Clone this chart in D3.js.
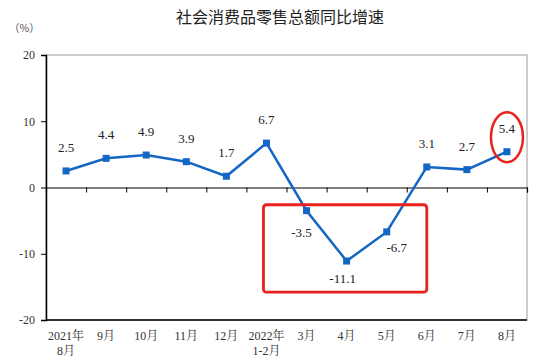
<!DOCTYPE html>
<html><head><meta charset="utf-8">
<script src="https://cdn.jsdelivr.net/npm/d3@7"></script>
<style>body{margin:0;background:#fff}</style>
</head><body><svg id="c" width="545" height="363"></svg>
<script>
const categories = ["2021年\n8月","9月","10月","11月","12月","2022年\n1-2月","3月","4月","5月","6月","7月","8月"];
const values = [2.5,4.4,4.9,3.9,1.7,6.7,-3.5,-11.1,-6.7,3.1,2.7,5.4];
const yTicks = [20,10,0,-10,-20];
const labelPos = ["above","above","above","above","above","above","belowLeft","below","belowRight","above","above","above"];
const title = "社会消费品零售总额同比增速";

const loc = d3.formatLocale({decimal:".",thousands:",",grouping:[3],currency:["",""],minus:"-"});
const svg = d3.select("#c");
const m = {l:46, r:527, t:55, b:320};
const x = d3.scaleBand().domain(d3.range(categories.length)).range([m.l, m.r]);
const y = d3.scaleLinear().domain([-20,20]).range([m.b, m.t]);
const serif = "'Liberation Serif','Noto Serif CJK SC','Noto Sans CJK SC',serif";
const blue = "#1466c4", red = "#e8221e";

svg.append("text").attr("x",280).attr("y",23).attr("text-anchor","middle")
  .attr("font-family","'Noto Sans CJK SC',sans-serif").attr("font-size",16).attr("fill","#222").text(title);
svg.append("text").attr("x",9).attr("y",32).attr("font-family","'Noto Sans CJK SC',sans-serif").attr("font-size",10.5).attr("fill","#555").text("（%）");

// frame
svg.append("rect").attr("x",m.l).attr("y",m.t).attr("width",m.r-m.l).attr("height",m.b-m.t)
  .attr("fill","none").attr("stroke","#999").attr("stroke-width",1);
// left axis
const ya = svg.append("g").attr("transform",`translate(${m.l},0)`)
  .call(d3.axisLeft(y).tickValues(yTicks).tickSize(5).tickFormat(loc.format("d")));
ya.select(".domain").attr("stroke","#000").attr("stroke-width",1.5);
ya.selectAll("line").attr("stroke","#000");
ya.selectAll("text").attr("font-family",serif).attr("font-size",12).attr("fill","#333").attr("dx",-3);
// bottom line
svg.append("line").attr("x1",m.l).attr("x2",m.r).attr("y1",m.b).attr("y2",m.b).attr("stroke","#000").attr("stroke-width",1.5);
// zero line with ticks
const za = svg.append("g").attr("transform",`translate(0,${y(0)})`)
  .call(d3.axisBottom(d3.scaleLinear().domain([0,categories.length]).range([m.l,m.r]))
    .tickValues(d3.range(categories.length+1)).tickSize(5).tickFormat(""));
za.select(".domain").attr("stroke","#000").attr("stroke-width",1.2);
za.selectAll("line").attr("stroke","#000");

// x labels
const cx = i => x(i) + x.bandwidth()/2;
categories.forEach((c,i)=>{
  const t = svg.append("text").attr("x",cx(i)).attr("y",340).attr("text-anchor","middle")
    .attr("font-family",serif).attr("font-size",12).attr("fill","#333");
  c.split("\n").forEach((s,j)=>t.append("tspan").attr("x",cx(i)).attr("dy",j?14.5:0).text(s));
});

// line
svg.append("path").datum(values).attr("fill","none").attr("stroke",blue).attr("stroke-width",2.5)
  .attr("d", d3.line().x((d,i)=>cx(i)).y(d=>y(d)));
svg.selectAll("rect.pt").data(values).enter().append("rect").attr("class","pt")
  .attr("x",(d,i)=>cx(i)-3.5).attr("y",d=>y(d)-3.5).attr("width",7).attr("height",7).attr("fill",blue);

// value labels
const off = {above:[0,-19], belowLeft:[-5,26], below:[-4,22], belowRight:[10,20]};
svg.selectAll("text.v").data(values).enter().append("text").attr("class","v")
  .attr("x",(d,i)=>cx(i)+off[labelPos[i]][0]).attr("y",(d,i)=>y(d)+off[labelPos[i]][1])
  .attr("text-anchor","middle").attr("font-family",serif).attr("font-size",13).attr("fill","#222")
  .text(d=>loc.format(".1f")(d));

// annotations
svg.append("rect").attr("x",cx(5)-3).attr("y",y(-2.6)).attr("width",cx(9)-cx(5)+3)
  .attr("height",y(-15.8)-y(-2.6)).attr("rx",3).attr("fill","none").attr("stroke",red).attr("stroke-width",2.8);
svg.append("ellipse").attr("cx",cx(11)).attr("cy",y(7.6)).attr("rx",16).attr("ry",25)
  .attr("fill","none").attr("stroke",red).attr("stroke-width",2.5);
</script></body></html>
